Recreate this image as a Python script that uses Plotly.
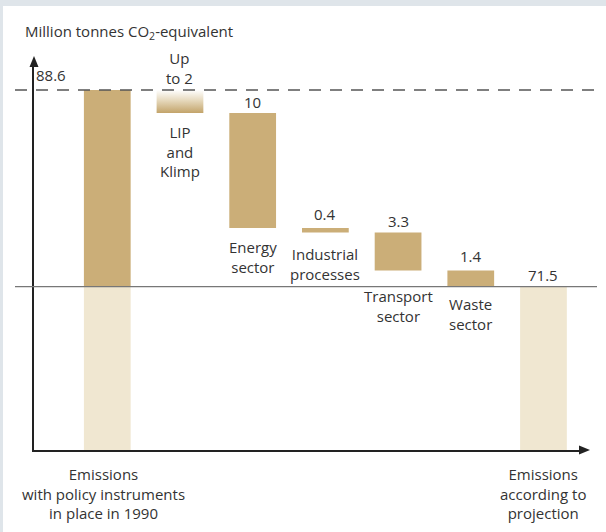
import plotly.graph_objects as go

# values in million tonnes CO2-equivalent
emissions_1990 = 88.6
emissions_projection = 71.5
sector_labels = ["LIP<br>and<br>Klimp", "Energy<br>sector", "Industrial<br>processes",
                 "Transport<br>sector", "Waste<br>sector"]
sector_reductions = [2, 10, 0.4, 3.3, 1.4]
reduction_labels = ["Up<br>to 2", "10", "0.4", "3.3", "1.4"]
start_label = "Emissions<br>with policy instruments<br>in place in 1990"
end_label = "Emissions<br>according to<br>projection"
axis_floor = 57.3  # broken axis: bottom of the drawn scale, not zero

TAN = "#cbae78"
LIGHT = "#f0e7d1"
TEXT = "#333333"
FONT = "Open Sans"
BAR_W = 0.643
W, H = 606, 532

# walk down the waterfall
tops, bottoms = [], []
level = emissions_1990
for v in sector_reductions:
    tops.append(level)
    level = round(level - v, 1)
    bottoms.append(level)

sector_x = list(range(1, len(sector_reductions) + 1))
end_x = len(sector_reductions) + 1

fig = go.Figure()

# pale lower part of the two total bars
fig.add_trace(go.Bar(
    x=[0, end_x], base=[axis_floor, axis_floor],
    y=[emissions_projection - axis_floor] * 2,
    width=BAR_W, marker={"color": LIGHT, "line": {"width": 0}},
))
# upper part of the 1990 bar
fig.add_trace(go.Bar(
    x=[0], base=[emissions_projection], y=[emissions_1990 - emissions_projection],
    width=BAR_W, marker={"color": TAN, "line": {"width": 0}},
))
# sector reductions (the first one is uncertain, drawn with a gradient below)
fig.add_trace(go.Bar(
    x=sector_x[1:], base=bottoms[1:], y=sector_reductions[1:],
    width=BAR_W, marker={"color": TAN, "line": {"width": 0}},
))
x0, x1 = sector_x[0] - BAR_W / 2, sector_x[0] + BAR_W / 2
fig.add_trace(go.Scatter(
    x=[x0, x1, x1, x0, x0],
    y=[tops[0], tops[0], bottoms[0], bottoms[0], tops[0]],
    mode="lines", line={"width": 0}, fill="toself",
    fillgradient={"type": "vertical",
                  "colorscale": [[0, "#c3a46a"], [0.55, "#e6d9bd"], [1, "#ffffff"]]},
    hoverinfo="skip",
))

ann_font = {"family": FONT, "size": 15, "color": TEXT}
annotations = []


def label(text, x, y, anchor, shift):
    annotations.append(dict(
        text=text, x=x, y=y, xref="x", yref="y", showarrow=False,
        yanchor=anchor, yshift=shift, font=ann_font, align="center",
    ))


above_shift = [0, -1, 2, 0, 3]
below_shift = [-7, -7, -9, -13, -5]
for i, xi in enumerate(sector_x):
    label(reduction_labels[i], xi, tops[i], "bottom", above_shift[i])
    label(sector_labels[i], xi, bottoms[i], "top", below_shift[i])

label(f"{emissions_projection}", end_x, emissions_projection, "bottom", 0)
label(start_label, -0.05, axis_floor, "top", -12)
label(end_label, end_x, axis_floor, "top", -12)

annotations.append(dict(
    text=f"{emissions_1990}", x=0, y=emissions_1990, xref="x domain", yref="y",
    xanchor="left", yanchor="middle", xshift=0, yshift=15, showarrow=False, font=ann_font,
))
annotations.append(dict(
    text="Million tonnes CO<sub>2</sub>-equivalent", x=23 / W, y=1 - 32 / H,
    xref="paper", yref="paper", xanchor="left", yanchor="middle",
    showarrow=False, font=ann_font,
))


def arrow_head(path, ax_px, ay_px):
    return dict(type="path", xref="paper", yref="paper", xsizemode="pixel", ysizemode="pixel",
                xanchor=ax_px / W, yanchor=1 - ay_px / H, path=path,
                fillcolor="#222", line={"width": 0})


shapes = [
    # page frame: pale strip on top and left
    dict(type="rect", xref="paper", yref="paper", x0=3 / W, x1=1, y0=0, y1=1 - 6 / H,
         fillcolor="white", line={"width": 0}, layer="below"),
    dict(type="line", xref="paper", yref="y", x0=15 / W, x1=597 / W,
         y0=emissions_1990, y1=emissions_1990,
         line={"color": "#555", "width": 1.4, "dash": "12px,9px"}),
    dict(type="line", xref="paper", yref="y", x0=15 / W, x1=597 / W,
         y0=emissions_projection, y1=emissions_projection,
         line={"color": "#777", "width": 1.2}),
    arrow_head("M -4.5,-11 L 4.5,-11 L 0,0 Z", 34, 56),
    arrow_head("M -11,-4.5 L -11,4.5 L 0,0 Z", 590, 450),
]

fig.update_layout(
    width=W, height=H, margin={"l": 0, "r": 0, "t": 0, "b": 0},
    paper_bgcolor="#dfe5ea", plot_bgcolor="rgba(0,0,0,0)",
    barmode="overlay", showlegend=False,
    xaxis={"domain": [34 / W, 582 / W], "range": [-1.008, 6.53],
           "showgrid": False, "zeroline": False, "showticklabels": False, "ticks": "",
           "showline": True, "linecolor": "#222", "linewidth": 2},
    yaxis={"domain": [82 / H, 470 / H], "range": [axis_floor, 91.03],
           "showgrid": False, "zeroline": False, "showticklabels": False, "ticks": "",
           "showline": True, "linecolor": "#222", "linewidth": 2},
    annotations=annotations, shapes=shapes,
)

fig.write_html("out.html", config={"displayModeBar": False},
               post_script="document.body.style.margin = '0';")
